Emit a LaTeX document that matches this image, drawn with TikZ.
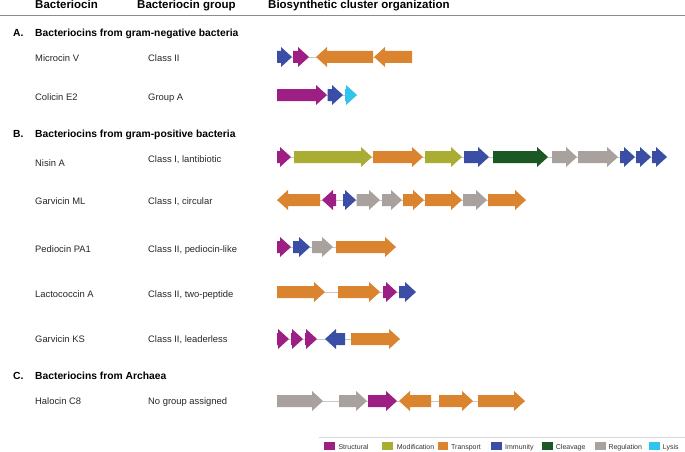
\documentclass[tikz,border=0pt]{standalone}
\usepackage{fontspec}
\setmainfont{Liberation Sans}

\definecolor{structural}{RGB}{158,31,131}
\definecolor{modification}{RGB}{170,173,52}
\definecolor{transport}{RGB}{218,132,48}
\definecolor{immunity}{RGB}{58,78,166}
\definecolor{cleavage}{RGB}{28,88,36}
\definecolor{regulation}{RGB}{168,161,157}
\definecolor{lysis}{RGB}{48,196,238}

% gene arrow: start x, end x, row y, colour (end < start points left)
\newcommand{\gene}[4]{%
  \pgfmathsetmacro{\genebase}{#2-min(11,abs(#2-#1))*sign(#2-#1)}%
  \fill[#4] (#1,#3-6) -- (\genebase,#3-6) -- (\genebase,#3-10) -- (#2,#3)
    -- (\genebase,#3+10) -- (\genebase,#3+6) -- (#1,#3+6) -- cycle;}

\begin{document}
\begin{tikzpicture}[x=1pt,y=-1pt,
    hdr/.style={anchor=base west,inner sep=0,font=\fontsize{11.5}{13}\selectfont\bfseries},
    sec/.style={anchor=base west,inner sep=0,font=\fontsize{10.3}{12}\selectfont\bfseries},
    lbl/.style={anchor=base west,inner sep=0,text=black!85,font=\fontsize{9.4}{11}\selectfont},
    leg/.style={anchor=base west,inner sep=0,text=black!80,font=\fontsize{7}{8}\selectfont},
    spine/.style={draw=black!22,line width=0.6pt}]
        \useasboundingbox (0,0) rectangle (685,452);

        % column heads
        \node[hdr] (hBac) at (35,9) {Bacteriocin};
        \node[hdr] (hGrp) at (137,9) {Bacteriocin group};
        \node[hdr] (hOrg) at (268,9) {Biosynthetic cluster organization};
        \draw[black!45,line width=0.8pt] (0,15) -- (685,15);

        % A
        \node[sec] (secA) at (13,37) {A.};
        \node[sec] (secAt) at (35,37) {Bacteriocins from gram-negative bacteria};
        \node[lbl] (mvN) at (35,62) {Microcin V};
        \node[lbl] (mvG) at (148,62) {Class II};
        \coordinate (mvS) at (277,57); \coordinate (mvE) at (412,57);
        \draw[spine] (mvS) -- (mvE);
        \gene{277}{292}{57}{immunity}
        \gene{293}{309}{57}{structural}
        \gene{373}{316}{57}{transport}
        \gene{412}{374}{57}{transport}

        \node[lbl] (ceN) at (35,100.5) {Colicin E2};
        \node[lbl] (ceG) at (148,100.5) {Group A};
        \coordinate (ceS) at (277,95); \coordinate (ceE) at (357,95);
        \draw[spine] (ceS) -- (ceE);
        \gene{277}{327}{95}{structural}
        \gene{327.5}{343}{95}{immunity}
        \gene{345}{357}{95}{lysis}

        % B
        \node[sec] (secB) at (13,137) {B.};
        \node[sec] (secBt) at (35,137) {Bacteriocins from gram-positive bacteria};
        \node[lbl] (niN) at (35,166.5) {Nisin A};
        \node[lbl] (niG) at (148,162) {Class I, lantibiotic};
        \coordinate (niS) at (277,157); \coordinate (niE) at (667,157);
        \draw[spine] (niS) -- (niE);
        \gene{277}{291}{157}{structural}
        \gene{294}{372}{157}{modification}
        \gene{373}{423}{157}{transport}
        \gene{425}{462}{157}{modification}
        \gene{464}{489}{157}{immunity}
        \gene{493}{548}{157}{cleavage}
        \gene{552}{577}{157}{regulation}
        \gene{578}{618}{157}{regulation}
        \gene{620}{635}{157}{immunity}
        \gene{636}{651}{157}{immunity}
        \gene{652}{667}{157}{immunity}

        \node[lbl] (gmN) at (35,204.3) {Garvicin ML};
        \node[lbl] (gmG) at (148,204.3) {Class I, circular};
        \coordinate (gmS) at (277,200); \coordinate (gmE) at (526,200);
        \draw[spine] (gmS) -- (gmE);
        \gene{320}{277}{200}{transport}
        \gene{336}{322}{200}{structural}
        \gene{343}{356}{200}{immunity}
        \gene{356.5}{380}{200}{regulation}
        \gene{382}{402}{200}{regulation}
        \gene{403}{424}{200}{transport}
        \gene{425}{462}{200}{transport}
        \gene{463}{487}{200}{regulation}
        \gene{488}{526}{200}{transport}

        \node[lbl] (peN) at (35,252) {Pediocin PA1};
        \node[lbl] (peG) at (148,252) {Class II, pediocin-like};
        \coordinate (peS) at (277,247); \coordinate (peE) at (396,247);
        \draw[spine] (peS) -- (peE);
        \gene{277}{291}{247}{structural}
        \gene{293}{310}{247}{immunity}
        \gene{312}{333}{247}{regulation}
        \gene{336}{396}{247}{transport}

        \node[lbl] (laN) at (35,297.5) {Lactococcin A};
        \node[lbl] (laG) at (148,297.5) {Class II, two-peptide};
        \coordinate (laS) at (277,292); \coordinate (laE) at (416,292);
        \draw[spine] (laS) -- (laE);
        \gene{277}{325}{292}{transport}
        \gene{338}{380}{292}{transport}
        \gene{383}{397}{292}{structural}
        \gene{399}{416}{292}{immunity}

        \node[lbl] (gkN) at (35,342) {Garvicin KS};
        \node[lbl] (gkG) at (148,342) {Class II, leaderless};
        \coordinate (gkS) at (277,339); \coordinate (gkE) at (400,339);
        \draw[spine] (gkS) -- (gkE);
        \gene{277}{289}{339}{structural}
        \gene{291}{303}{339}{structural}
        \gene{305}{317}{339}{structural}
        \gene{345}{325}{339}{immunity}
        \gene{351}{400}{339}{transport}

        % C
        \node[sec] (secC) at (13,379.5) {C.};
        \node[sec] (secCt) at (35,379.5) {Bacteriocins from Archaea};
        \node[lbl] (hcN) at (35,404.7) {Halocin C8};
        \node[lbl] (hcG) at (148,404.7) {No group assigned};
        \coordinate (hcS) at (277,401); \coordinate (hcE) at (525,401);
        \draw[spine] (hcS) -- (hcE);
        \gene{277}{323}{401}{regulation}
        \gene{339}{367}{401}{regulation}
        \gene{368}{397}{401}{structural}
        \gene{431}{399}{401}{transport}
        \gene{439}{473}{401}{transport}
        \gene{478}{525}{401}{transport}

        % legend
        \draw[black!15,line width=0.6pt] (319,437) -- (685,437);
        \fill[structural] (324,442) rectangle (335,450);
        \node[leg] (lgS) at (338.3,449.5) {Structural};
        \fill[modification] (381.7,442) rectangle (392.7,450);
        \node[leg] (lgM) at (396.7,449.5) {Modification};
        \fill[transport] (437.7,442) rectangle (448.3,450);
        \node[leg] (lgT) at (451,449.5) {Transport};
        \fill[immunity] (490.5,442) rectangle (501.5,450);
        \node[leg] (lgI) at (505,449.5) {Immunity};
        \fill[cleavage] (542.3,442) rectangle (552.8,450);
        \node[leg] (lgC) at (555.7,449.5) {Cleavage};
        \fill[regulation] (595,442) rectangle (605.5,450);
        \node[leg] (lgR) at (608.3,449.5) {Regulation};
        \fill[lysis] (649,442) rectangle (659.5,450);
        \node[leg] (lgL) at (662.7,449.5) {Lysis};
\end{tikzpicture}
\end{document}
